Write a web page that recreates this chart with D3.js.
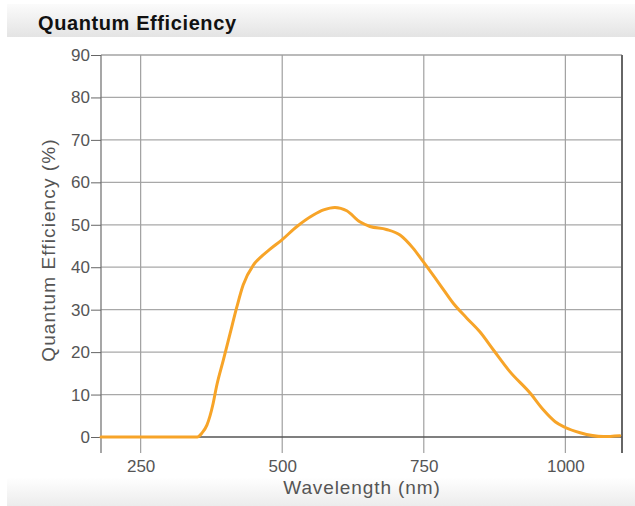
<!DOCTYPE html>
<html>
<head>
<meta charset="utf-8">
<script src="https://cdn.jsdelivr.net/npm/d3@7"></script>
<style>
  html, body { margin: 0; padding: 0; background: #fff; }
  svg { display: block; font-family: Arial, "Liberation Sans", sans-serif; }
</style>
</head>
<body>
<svg id="chart" width="635" height="506"></svg>
<script>
// Quantum efficiency curve (wavelength in nm, QE in %)
const wavelengths = [180, 250, 300, 350, 358, 367, 378, 384, 396, 408, 420, 431, 449, 464, 478, 499,
  526, 555, 573, 593, 614, 637, 655, 684, 708, 731, 749, 779, 802, 826, 849, 873, 902, 938,
  961, 982, 999, 1026, 1067, 1096];
const qe = [0, 0, 0, 0, 0.9, 2.8, 7.9, 11.9, 18.1, 24.4, 30.7, 35.8, 40.5, 42.6, 44.2, 46.4,
  49.6, 52.3, 53.5, 54.1, 53.3, 50.7, 49.6, 48.9, 47.6, 44.5, 41.3, 35.8, 31.5, 28.0, 24.8, 20.5, 15.4, 10.3,
  6.4, 3.6, 2.3, 1.0, 0.1, 0.3];
const xTicks = [250, 500, 750, 1000];
const yTicks = [0, 10, 20, 30, 40, 50, 60, 70, 80, 90];

const FONT = "Arial, 'Liberation Sans', sans-serif";
const svg = d3.select("#chart");
const defs = svg.append("defs");

const topGrad = defs.append("linearGradient").attr("id", "topBand")
  .attr("x1", 0).attr("y1", 0).attr("x2", 0).attr("y2", 1);
topGrad.append("stop").attr("offset", "0%").attr("stop-color", "#fbfbfb");
topGrad.append("stop").attr("offset", "100%").attr("stop-color", "#e4e4e4");

const botGrad = defs.append("linearGradient").attr("id", "botBand")
  .attr("x1", 0).attr("y1", 0).attr("x2", 0).attr("y2", 1);
botGrad.append("stop").attr("offset", "0%").attr("stop-color", "#ffffff");
botGrad.append("stop").attr("offset", "100%").attr("stop-color", "#ececec");

// header band and title
svg.append("rect").attr("x", 7).attr("y", 4).attr("width", 628).attr("height", 33)
  .attr("fill", "url(#topBand)");
svg.append("rect").attr("x", 7).attr("y", 477).attr("width", 628).attr("height", 29)
  .attr("fill", "url(#botBand)");
svg.append("text").attr("x", 38).attr("y", 30)
  .attr("font-size", 20).attr("font-weight", "bold").attr("fill", "#111")
  .attr("letter-spacing", 0.6)
  .text("Quantum Efficiency");

const margin = { left: 101, right: 622, top: 55, zero: 437, bottom: 453 };

const x = d3.scaleLinear().domain([180, 1100]).range([margin.left, margin.right]);
const y = d3.scaleLinear().domain([0, 90]).range([margin.zero, margin.top]);

const g = svg.append("g");

// horizontal grid
g.append("g").selectAll("line").data(yTicks.filter(d => d > 0)).join("line")
  .attr("x1", margin.left).attr("x2", margin.right)
  .attr("y1", d => y(d)).attr("y2", d => y(d))
  .attr("stroke", d => d === 90 ? "#777" : "#a8a8a8").attr("stroke-width", 1.2);

// vertical grid, extending below zero
g.append("g").selectAll("line").data(xTicks).join("line")
  .attr("x1", d => x(d)).attr("x2", d => x(d))
  .attr("y1", margin.top).attr("y2", margin.bottom)
  .attr("stroke", "#a0a0a0").attr("stroke-width", 1.2);

// frame sides
g.append("line").attr("x1", margin.left).attr("x2", margin.left)
  .attr("y1", margin.top).attr("y2", margin.bottom).attr("stroke", "#777").attr("stroke-width", 1.3);
g.append("line").attr("x1", margin.right).attr("x2", margin.right)
  .attr("y1", margin.top).attr("y2", margin.bottom).attr("stroke", "#666").attr("stroke-width", 2);

// zero line
g.append("line").attr("x1", margin.left).attr("x2", margin.right)
  .attr("y1", y(0)).attr("y2", y(0)).attr("stroke", "#555").attr("stroke-width", 1.3);

// y axis
const yAxis = g.append("g").attr("transform", `translate(${margin.left},0)`)
  .call(d3.axisLeft(y).tickValues(yTicks).tickSize(10).tickPadding(1));
yAxis.select(".domain").remove();
yAxis.selectAll(".tick line").attr("stroke", "#666");
yAxis.selectAll(".tick text").attr("font-size", 17).attr("fill", "#555")
  .attr("font-family", FONT);

// x axis labels
const xAxis = g.append("g").attr("transform", `translate(0,${margin.bottom})`)
  .call(d3.axisBottom(x).tickValues(xTicks).tickFormat(d3.format("d")).tickSize(0).tickPadding(7));
xAxis.select(".domain").remove();
xAxis.selectAll(".tick text").attr("font-size", 17).attr("fill", "#555")
  .attr("font-family", FONT);

// axis titles
svg.append("text").attr("x", 362).attr("y", 494).attr("text-anchor", "middle")
  .attr("font-size", 19).attr("letter-spacing", 0.9).attr("fill", "#555").text("Wavelength (nm)");
svg.append("text").attr("transform", "translate(55,250) rotate(-90)")
  .attr("text-anchor", "middle").attr("font-size", 19).attr("letter-spacing", 1.1).attr("fill", "#555")
  .text("Quantum Efficiency (%)");

// curve
const pts = wavelengths.map((w, i) => [w, qe[i]]);
g.append("path").datum(pts)
  .attr("fill", "none").attr("stroke", "#f7a428").attr("stroke-width", 3)
  .attr("stroke-linejoin", "round").attr("stroke-linecap", "round")
  .attr("d", d3.line().x(d => x(d[0])).y(d => y(d[1])).curve(d3.curveMonotoneX));
</script>
</body>
</html>
